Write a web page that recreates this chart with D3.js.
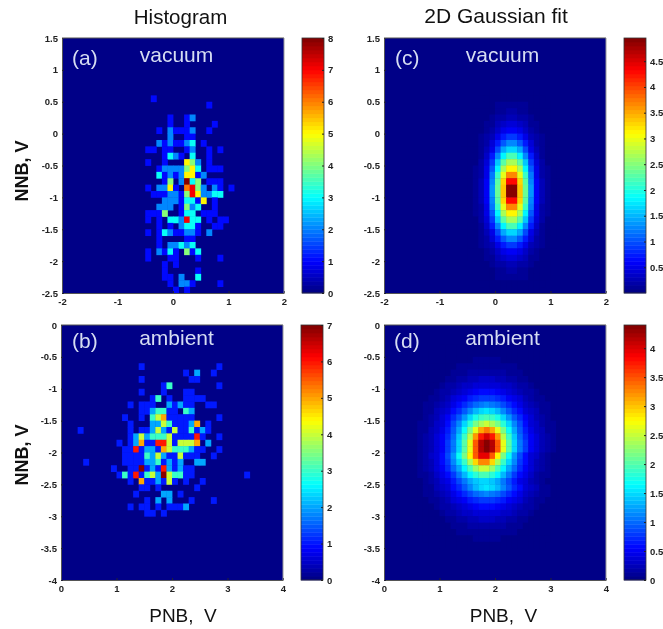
<!DOCTYPE html>
<html>
<head>
<meta charset="utf-8">
<script src="https://cdn.jsdelivr.net/npm/d3@7"></script>
<style>
  html, body { margin: 0; padding: 0; background: #fff; }
  svg { display: block; filter: blur(0.45px); }
  text { font-family: "Liberation Sans", Arial, sans-serif; white-space: pre; }
</style>
</head>
<body>
<div id="chart"></div>
<script>
// histogram counts, one [row, col, count] per filled bin (40 x 40 bins, empty bins left out)
var histA = [
  [9,16,1],[10,26,1],
  [12,19,1],[12,22,1],[12,23,2],
  [13,19,1],[13,22,1],[13,27,1],
  [14,17,1],[14,19,2],[14,20,1],[14,21,1],[14,22,1],[14,23,2],[14,26,1],
  [15,19,2],[15,22,1],[15,23,1],
  [16,17,2],[16,18,1],[16,19,2],[16,20,1],[16,21,1],[16,22,2],[16,23,3],[16,25,1],
  [17,15,1],[17,16,1],[17,18,1],[17,19,1],[17,22,1],[17,23,2],[17,26,1],[17,28,1],
  [18,18,1],[18,19,3],[18,20,2],[18,21,1],[18,23,3],[18,26,1],
  [19,15,1],[19,18,1],[19,22,5],[19,23,4],[19,24,2],[19,26,1],
  [20,17,1],[20,18,2],[20,19,2],[20,20,2],[20,21,2],[20,22,4],[20,23,5],[20,24,3],[20,26,1],[20,27,1],[20,28,1],
  [21,17,3],[21,18,1],[21,19,2],[21,20,1],[21,21,2],[21,22,5],[21,23,5],[21,24,1],[21,25,2],
  [22,18,1],[22,19,4],[22,21,2],[22,22,8],[22,23,3],[22,24,4],[22,26,1],[22,27,1],[22,28,1],
  [23,15,1],[23,17,2],[23,18,2],[23,19,5],[23,20,1],[23,22,6],[23,23,7],[23,24,4],[23,25,2],[23,27,2],[23,28,1],[23,30,1],
  [24,16,1],[24,17,1],[24,18,1],[24,19,2],[24,20,2],[24,21,1],[24,22,4],[24,23,7],[24,24,5],[24,25,2],[24,26,2],[24,27,3],[24,28,3],
  [25,18,2],[25,19,2],[25,20,2],[25,21,1],[25,22,3],[25,23,3],[25,24,1],[25,25,5],[25,27,1],
  [26,17,2],[26,18,2],[26,19,2],[26,21,1],[26,22,4],[26,23,2],[26,24,3],[26,27,1],
  [27,15,1],[27,16,1],[27,17,1],[27,18,4],[27,21,1],[27,22,3],[27,23,3],[27,25,1],[27,26,1],[27,27,1],
  [28,15,1],[28,17,1],[28,19,3],[28,20,3],[28,21,2],[28,22,7],[28,23,3],[28,24,3],[28,26,1],[28,28,1],[28,29,1],
  [29,17,1],[29,19,1],[29,21,2],[29,22,3],[29,23,3],[29,24,1],[29,27,1],[29,28,1],
  [30,15,1],[30,17,1],[30,18,3],[30,19,2],[30,20,1],[30,21,1],[30,22,2],[30,23,2],[30,24,1],[30,26,2],
  [31,17,1],[31,22,1],[31,23,1],
  [32,17,1],[32,19,2],[32,20,2],[32,21,3],[32,22,2],[32,23,3],
  [33,15,1],[33,17,2],[33,18,1],[33,19,3],[33,20,1],[33,22,4],[33,23,1],[33,24,3],
  [34,15,1],[34,19,1],[34,20,1],[34,24,1],[34,28,1],
  [35,18,1],[35,20,1],
  [36,18,1],[36,24,1],
  [37,18,1],[37,19,1],[37,21,2],[37,24,3],
  [38,19,1],[38,21,2],[38,22,2],[38,23,1],[38,28,1],
  [39,20,1],[39,22,1]
];

var histB = [
  [6,14,1],[6,28,1],
  [7,22,1],[7,24,2],[7,27,1],
  [8,14,1],[8,23,1],[8,24,1],
  [9,18,1],[9,19,3],[9,28,1],
  [10,14,1],[10,18,1],[10,22,1],[10,23,1],
  [11,16,1],[11,17,3],[11,19,1],[11,22,1],[11,23,1],[11,24,1],[11,25,1],
  [12,12,1],[12,14,1],[12,15,1],[12,16,1],[12,19,2],[12,20,1],[12,21,2],[12,22,1],[12,23,1],[12,26,1],[12,27,1],
  [13,14,1],[13,15,1],[13,16,2],[13,17,3],[13,18,3],[13,19,1],[13,20,1],[13,22,3],[13,23,2],
  [14,11,1],[14,14,1],[14,16,3],[14,17,4],[14,18,5],[14,19,1],[14,20,1],[14,21,1],[14,22,1],[14,23,1],[14,28,1],
  [15,12,1],[15,16,2],[15,17,2],[15,18,4],[15,19,3],[15,20,1],[15,21,1],[15,22,1],[15,23,2],[15,24,5],[15,26,1],
  [16,3,1],[16,12,1],[16,14,1],[16,15,1],[16,16,2],[16,17,4],[16,18,2],[16,19,1],[16,20,4],[16,21,1],[16,22,1],[16,23,3],[16,24,1],[16,25,2],[16,26,1],
  [17,12,1],[17,13,2],[17,14,4],[17,15,2],[17,16,3],[17,17,3],[17,18,3],[17,19,4],[17,20,1],[17,21,1],[17,22,1],[17,23,1],[17,24,6],[17,25,1],[17,28,1],
  [18,10,1],[18,12,1],[18,13,2],[18,14,5],[18,15,1],[18,16,1],[18,17,6],[18,18,6],[18,19,4],[18,20,1],[18,21,4],[18,22,4],[18,23,4],[18,24,5],[18,26,2],
  [19,11,1],[19,12,1],[19,13,6],[19,14,1],[19,15,2],[19,16,2],[19,17,1],[19,18,5],[19,19,4],[19,20,3],[19,21,3],[19,22,3],[19,23,2],[19,24,1],[19,25,1],[19,28,1],
  [20,11,1],[20,12,1],[20,13,1],[20,14,1],[20,15,3],[20,16,2],[20,17,4],[20,18,2],[20,19,1],[20,20,1],[20,21,4],[20,22,1],[20,23,1],[20,24,1],[20,27,1],
  [21,4,1],[21,11,1],[21,12,1],[21,13,1],[21,14,1],[21,15,2],[21,16,2],[21,17,3],[21,18,1],[21,19,2],[21,20,1],[21,21,2],[21,24,2],[21,25,2],
  [22,9,1],[22,12,1],[22,13,1],[22,14,7],[22,15,1],[22,16,2],[22,17,1],[22,18,6],[22,19,2],[22,20,1],[22,21,2],[22,22,1],[22,23,1],
  [23,10,1],[23,11,3],[23,12,1],[23,13,6],[23,14,1],[23,15,3],[23,16,4],[23,17,2],[23,18,7],[23,19,4],[23,20,3],[23,21,3],[23,22,1],[23,23,1],[23,33,1],
  [24,12,1],[24,14,5],[24,15,1],[24,16,1],[24,17,2],[24,18,1],[24,19,4],[24,20,1],[24,22,1],[24,25,1],
  [25,14,1],[25,15,1],[25,17,1],[25,24,1],
  [26,13,1],[26,18,2],[26,19,2],[26,21,1],
  [27,15,1],[27,17,2],[27,19,2],[27,23,1],[27,27,1],
  [28,12,1],[28,14,1],[28,15,1],[28,17,1],[28,19,1],[28,20,1],[28,21,1],[28,22,2],
  [29,15,1],[29,16,1],[29,18,1]
];

// fitted surface (c), rows 8..39, cols 14..31
var fitCStartRow = 8, fitCStartCol = 14;
var fitC = [
  [0,0,0,0,.01,.02,.03,.04,.04,.04,.04,.03,.02,.01,0,0,0,0],
  [0,0,0,.01,.02,.035,.05,.065,.07,.07,.065,.05,.035,.02,.01,0,0,0],
  [0,0,.01,.015,.03,.05,.08,.1,.11,.11,.1,.08,.05,.03,.015,.01,0,0],
  [0,0,.01,.02,.04,.07,.11,.15,.17,.17,.15,.11,.07,.04,.02,.01,0,0],
  [0,0,.015,.03,.06,.1,.16,.22,.25,.25,.22,.16,.1,.06,.03,.015,0,0],
  [0,.01,.02,.04,.085,.15,.24,.33,.39,.39,.33,.24,.15,.085,.04,.02,.01,0],
  [0,.01,.023,.055,.11,.21,.35,.5,.59,.59,.5,.35,.21,.11,.055,.023,.01,0],
  [0,.015,.03,.08,.16,.3,.5,.74,.91,.91,.74,.5,.3,.16,.08,.03,.015,0],
  [.01,.015,.04,.1,.2,.4,.7,1.05,1.26,1.26,1.05,.7,.4,.2,.1,.04,.015,.01],
  [.01,.02,.05,.12,.26,.54,.98,1.42,1.7,1.7,1.42,.98,.54,.26,.12,.05,.02,.01],
  [.01,.023,.06,.15,.34,.7,1.25,1.83,2.2,2.2,1.83,1.25,.7,.34,.15,.06,.023,.01],
  [.01,.026,.07,.18,.4,.9,1.55,2.25,2.7,2.7,2.25,1.55,.9,.4,.18,.07,.026,.01],
  [.011,.03,.085,.2,.48,1.05,1.85,2.65,3.17,3.17,2.65,1.85,1.05,.48,.2,.085,.03,.011],
  [.012,.033,.09,.23,.54,1.2,2.1,3,3.7,3.7,3,2.1,1.2,.54,.23,.09,.033,.012],
  [.012,.035,.1,.25,.58,1.3,2.27,3.25,4.3,4.3,3.25,2.27,1.3,.58,.25,.1,.035,.012],
  [.013,.035,.1,.25,.61,1.35,2.35,3.4,4.9,4.9,3.4,2.35,1.35,.61,.25,.1,.035,.013],
  [.013,.035,.1,.25,.61,1.35,2.35,3.4,4.9,4.9,3.4,2.35,1.35,.61,.25,.1,.035,.013],
  [.012,.035,.1,.25,.58,1.3,2.27,3.25,4.3,4.3,3.25,2.27,1.3,.58,.25,.1,.035,.012],
  [.012,.033,.09,.23,.54,1.2,2.1,3,3.7,3.7,3,2.1,1.2,.54,.23,.09,.033,.012],
  [.011,.03,.085,.2,.48,1.05,1.85,2.65,3.17,3.17,2.65,1.85,1.05,.48,.2,.085,.03,.011],
  [.01,.026,.07,.18,.4,.9,1.55,2.25,2.7,2.7,2.25,1.55,.9,.4,.18,.07,.026,.01],
  [.01,.023,.06,.15,.34,.7,1.25,1.83,2.2,2.2,1.83,1.25,.7,.34,.15,.06,.023,.01],
  [.01,.02,.05,.12,.26,.54,.98,1.42,1.7,1.7,1.42,.98,.54,.26,.12,.05,.02,.01],
  [.01,.015,.04,.1,.2,.4,.7,1.05,1.26,1.26,1.05,.7,.4,.2,.1,.04,.015,.01],
  [0,.015,.03,.08,.16,.3,.5,.74,.91,.91,.74,.5,.3,.16,.08,.03,.015,0],
  [0,.01,.023,.055,.11,.21,.35,.5,.59,.59,.5,.35,.21,.11,.055,.023,.01,0],
  [0,.01,.02,.04,.085,.15,.24,.33,.39,.39,.33,.24,.15,.085,.04,.02,.01,0],
  [0,0,.015,.03,.06,.1,.16,.22,.25,.25,.22,.16,.1,.06,.03,.015,0,0],
  [0,0,.01,.02,.04,.07,.11,.15,.17,.17,.15,.11,.07,.04,.02,.01,0,0],
  [0,0,.01,.015,.03,.05,.08,.1,.11,.11,.1,.08,.05,.03,.015,.01,0,0],
  [0,0,0,.01,.02,.035,.05,.065,.07,.07,.065,.05,.035,.02,.01,0,0,0],
  [0,0,0,0,.01,.02,.03,.04,.04,.04,.04,.03,.02,.01,0,0,0,0]
];

// fitted surface (d), rows 3..34, cols 5..31
var fitDStartRow = 3, fitDStartCol = 5;
var fitD = [
  [0,0,0,0,0,.01,.01,.015,.015,.02,.02,.025,.03,.03,.03,.025,.02,.02,.015,.015,.01,.01,0,0,0,0,0],
  [0,0,0,.01,.01,.015,.02,.025,.03,.035,.04,.04,.045,.045,.045,.04,.04,.035,.03,.025,.02,.015,.01,.01,0,0,0],
  [0,0,.01,.012,.02,.025,.035,.04,.05,.055,.065,.07,.075,.075,.075,.07,.065,.055,.05,.04,.035,.025,.02,.012,.01,0,0],
  [0,0,.01,.015,.02,.03,.04,.055,.07,.09,.105,.115,.12,.12,.12,.115,.105,.09,.07,.055,.04,.03,.02,.015,.01,0,0],
  [0,.01,.014,.025,.035,.045,.065,.09,.11,.13,.155,.18,.19,.19,.19,.18,.155,.13,.11,.09,.065,.045,.035,.025,.014,.01,0],
  [.01,.012,.02,.035,.045,.065,.1,.13,.17,.2,.24,.27,.285,.29,.285,.27,.24,.2,.17,.13,.1,.065,.045,.035,.02,.012,.01],
  [.01,.02,.03,.045,.065,.1,.14,.18,.25,.29,.34,.38,.4,.41,.4,.38,.34,.29,.25,.18,.14,.1,.065,.045,.03,.02,.01],
  [.015,.025,.04,.06,.095,.14,.19,.26,.33,.4,.47,.52,.56,.57,.56,.52,.47,.4,.33,.26,.19,.14,.095,.06,.04,.025,.015],
  [.02,.035,.055,.085,.13,.19,.26,.35,.44,.54,.65,.74,.8,.82,.8,.74,.65,.54,.44,.35,.26,.19,.13,.085,.055,.035,.02],
  [.025,.04,.07,.11,.17,.25,.34,.45,.57,.73,.88,1,1.09,1.12,1.09,1,.88,.73,.57,.45,.34,.25,.17,.11,.07,.04,.025],
  [.03,.05,.08,.13,.21,.3,.41,.55,.75,.95,1.16,1.35,1.47,1.52,1.47,1.35,1.16,.95,.75,.55,.41,.3,.21,.13,.08,.05,.03],
  [.035,.06,.1,.165,.25,.36,.5,.7,.93,1.2,1.5,1.73,1.9,1.95,1.9,1.73,1.5,1.2,.93,.7,.5,.36,.25,.165,.1,.06,.035],
  [.04,.07,.11,.19,.29,.41,.58,.83,1.13,1.47,1.8,2.15,2.4,2.5,2.4,2.15,1.8,1.47,1.13,.83,.58,.41,.29,.19,.11,.07,.04],
  [.045,.08,.13,.21,.32,.46,.67,.95,1.3,1.7,2.15,2.65,3.15,3.35,3.15,2.65,2.15,1.7,1.3,.95,.67,.46,.32,.21,.13,.08,.045],
  [.05,.085,.14,.23,.35,.5,.73,1.03,1.44,1.9,2.43,3.2,3.75,4,3.75,3.2,2.43,1.9,1.44,1.03,.73,.5,.35,.23,.14,.085,.05],
  [.05,.09,.15,.24,.36,.52,.77,1.08,1.5,2,2.65,3.5,4.15,4.4,4.15,3.5,2.65,2,1.5,1.08,.77,.52,.36,.24,.15,.09,.05],
  [.05,.09,.15,.24,.36,.52,.77,1.08,1.5,2,2.65,3.5,4.15,4.4,4.15,3.5,2.65,2,1.5,1.08,.77,.52,.36,.24,.15,.09,.05],
  [.065,.11,.18,.285,.41,.6,.88,1.22,1.66,2.15,2.8,3.5,3.95,3.95,3.5,2.8,2.15,1.66,1.22,.88,.6,.41,.285,.18,.11,.065,.04],
  [.06,.1,.17,.26,.39,.55,.8,1.1,1.5,1.9,2.38,2.95,3.3,3.3,2.95,2.38,1.9,1.5,1.1,.8,.55,.39,.26,.17,.1,.06,.035],
  [.055,.09,.15,.24,.35,.5,.7,.97,1.3,1.65,1.98,2.3,2.48,2.48,2.3,1.98,1.65,1.3,.97,.7,.5,.35,.24,.15,.09,.055,.03],
  [.045,.08,.125,.2,.31,.43,.58,.82,1.05,1.35,1.62,1.82,1.93,1.93,1.82,1.62,1.35,1.05,.82,.58,.43,.31,.2,.125,.08,.045,.03],
  [.04,.065,.105,.165,.25,.36,.48,.65,.85,1.05,1.25,1.42,1.5,1.5,1.42,1.25,1.05,.85,.65,.48,.36,.25,.165,.105,.065,.04,.025],
  [.03,.05,.08,.13,.21,.3,.41,.55,.75,.95,1.16,1.35,1.47,1.52,1.47,1.35,1.16,.95,.75,.55,.41,.3,.21,.13,.08,.05,.03],
  [.025,.04,.07,.11,.17,.25,.34,.45,.57,.73,.88,1,1.09,1.12,1.09,1,.88,.73,.57,.45,.34,.25,.17,.11,.07,.04,.025],
  [.02,.035,.055,.085,.13,.19,.26,.35,.44,.54,.65,.74,.8,.82,.8,.74,.65,.54,.44,.35,.26,.19,.13,.085,.055,.035,.02],
  [.015,.025,.04,.06,.095,.14,.19,.26,.33,.4,.47,.52,.56,.57,.56,.52,.47,.4,.33,.26,.19,.14,.095,.06,.04,.025,.015],
  [.01,.02,.03,.045,.065,.1,.14,.18,.25,.29,.34,.38,.4,.41,.4,.38,.34,.29,.25,.18,.14,.1,.065,.045,.03,.02,.01],
  [.01,.012,.02,.035,.045,.065,.1,.13,.17,.2,.24,.27,.285,.29,.285,.27,.24,.2,.17,.13,.1,.065,.045,.035,.02,.012,.01],
  [0,.01,.014,.025,.035,.045,.065,.09,.11,.13,.155,.18,.19,.19,.19,.18,.155,.13,.11,.09,.065,.045,.035,.025,.014,.01,0],
  [0,0,.01,.015,.02,.03,.04,.055,.07,.09,.105,.115,.12,.12,.12,.115,.105,.09,.07,.055,.04,.03,.02,.015,.01,0,0],
  [0,0,.01,.012,.02,.025,.035,.04,.05,.055,.065,.07,.075,.075,.075,.07,.065,.055,.05,.04,.035,.025,.02,.012,.01,0,0],
  [0,0,0,.01,.01,.015,.02,.025,.03,.035,.04,.04,.045,.045,.045,.04,.04,.035,.03,.025,.02,.015,.01,.01,0,0,0]
];

// tick labels
var xTicksTop = [-2, -1, 0, 1, 2];
var yTicksTop = [1.5, 1, 0.5, 0, -0.5, -1, -1.5, -2, -2.5];
var xTicksBottom = [0, 1, 2, 3, 4];
var yTicksBottom = [0, -0.5, -1, -1.5, -2, -2.5, -3, -3.5, -4];
var barTicksA = [0, 1, 2, 3, 4, 5, 6, 7, 8];
var barTicksB = [0, 1, 2, 3, 4, 5, 6, 7];
var barTicksC = [0.5, 1, 1.5, 2, 2.5, 3, 3.5, 4, 4.5];
var barTicksD = [0, 0.5, 1, 1.5, 2, 2.5, 3, 3.5, 4];

var svg = d3.select("#chart").append("svg")
    .attr("width", 663)
    .attr("height", 629);

var bins = d3.range(40);
var levels = d3.range(64);

// matlab jet, 64 steps
function jet(t) {
    var k = (Math.floor(Math.min(t, 0.9999) * 64) + 0.5) / 64;
    var ch = function (c) { return Math.round(255 * Math.max(0, Math.min(1, 1.5 - Math.abs(4 * k - c)))); };
    return d3.rgb(ch(3), ch(2), ch(1)).formatHex();
}

function makePanel(p) {
    var w = 222, h = 255;
    var g = svg.append("g").attr("transform", "translate(" + p.left + "," + p.top + ")");

    var xBand = d3.scaleBand().domain(bins).range([0, w]);
    var yBand = d3.scaleBand().domain(bins).range([0, h]);
    var color = function (v) { return jet(v / p.max); };

    g.append("rect").attr("width", w).attr("height", h).attr("fill", color(0));

    g.selectAll(".cell")
        .data(p.cells)
        .enter()
        .append("rect")
        .attr("class", "cell")
        .attr("x", function (d) { return xBand(d[1]); })
        .attr("y", function (d) { return yBand(d[0]); })
        .attr("width", xBand.bandwidth() + 0.4)
        .attr("height", yBand.bandwidth() + 0.4)
        .attr("fill", function (d) { return color(d[2]); });

    // axes
    var x = d3.scaleLinear().domain(p.xDomain).range([0, w]);
    var y = d3.scaleLinear().domain(p.yDomain).range([h, 0]);

    var xAxis = g.append("g").attr("transform", "translate(0," + h + ")")
        .call(d3.axisBottom(x).tickValues(p.xTicks).tickFormat(String).tickSizeInner(-2).tickSizeOuter(0).tickPadding(5));
    var yAxis = g.append("g")
        .call(d3.axisLeft(y).tickValues(p.yTicks).tickFormat(String).tickSizeInner(-2).tickSizeOuter(0).tickPadding(4));

    [xAxis, yAxis].forEach(function (a) {
        a.selectAll("path").attr("stroke", "#555");
        a.selectAll("line").attr("stroke", "#223");
        a.selectAll("text").attr("fill", "#222").style("font-size", "9.5px").style("font-weight", "bold")
            .style("font-family", '"Liberation Sans", Arial, sans-serif');
    });

    g.append("line").attr("x1", 0).attr("x2", w).attr("y1", 0).attr("y2", 0).attr("stroke", "#555");
    g.append("line").attr("x1", w).attr("x2", w).attr("y1", 0).attr("y2", h).attr("stroke", "#999");

    // labels inside the plot
    g.append("text").attr("x", p.tagX).attr("y", p.tagY).attr("fill", "#d5dcf2")
        .style("font-size", "21px").text(p.tag);
    g.append("text").attr("x", p.nameX).attr("y", p.nameY).attr("text-anchor", "middle").attr("fill", "#d5dcf2")
        .style("font-size", "21px").text(p.name);

    // colour bar
    var barH = h;
    var bar = svg.append("g").attr("transform", "translate(" + p.barLeft + "," + p.top + ")");
    var yBar = d3.scaleLinear().domain([0, p.max]).range([barH, 0]);

    bar.selectAll("rect")
        .data(levels)
        .enter()
        .append("rect")
        .attr("x", 0)
        .attr("width", 22)
        .attr("y", function (d) { return yBar((d + 1) / 64 * p.max); })
        .attr("height", barH / 64 + 0.4)
        .attr("fill", function (d) { return jet((d + 0.5) / 64); });

    bar.append("rect").attr("width", 22).attr("height", barH)
        .attr("fill", "none").attr("stroke", "#333").attr("stroke-width", 0.8);

    var barAxis = bar.append("g").attr("transform", "translate(22,0)")
        .call(d3.axisRight(yBar).tickValues(p.barTicks).tickFormat(String).tickSizeInner(-2).tickSizeOuter(0).tickPadding(4));
    barAxis.selectAll("path").remove();
    barAxis.selectAll("line").attr("stroke", "#222");
    barAxis.selectAll("text").attr("fill", "#222").style("font-size", "9.5px").style("font-weight", "bold")
        .style("font-family", '"Liberation Sans", Arial, sans-serif');
}

// turn a typed block of rows into [row, col, value] cells
function toCells(rows, startRow, startCol) {
    var cells = [];
    rows.forEach(function (r, i) {
        r.forEach(function (v, j) {
            if (v > 0) cells.push([startRow + i, startCol + j, v]);
        });
    });
    return cells;
}

makePanel({
    left: 62, top: 38, cells: histA, max: 8, xDomain: [-2, 2], yDomain: [-2.5, 1.5],
    xTicks: xTicksTop, yTicks: yTicksTop, tag: "(a)", tagX: 10, tagY: 27, name: "vacuum", nameX: 114.5, nameY: 24,
    barLeft: 302, barTicks: barTicksA
});
makePanel({
    left: 61, top: 325, cells: histB, max: 7, xDomain: [0, 4], yDomain: [-4, 0],
    xTicks: xTicksBottom, yTicks: yTicksBottom, tag: "(b)", tagX: 11, tagY: 23, name: "ambient", nameX: 115.5, nameY: 20,
    barLeft: 301, barTicks: barTicksB
});
makePanel({
    left: 384, top: 38, cells: toCells(fitC, fitCStartRow, fitCStartCol), max: 4.95, xDomain: [-2, 2], yDomain: [-2.5, 1.5],
    xTicks: xTicksTop, yTicks: yTicksTop, tag: "(c)", tagX: 11, tagY: 27, name: "vacuum", nameX: 118.5, nameY: 24,
    barLeft: 624, barTicks: barTicksC
});
makePanel({
    left: 384, top: 325, cells: toCells(fitD, fitDStartRow, fitDStartCol), max: 4.4, xDomain: [0, 4], yDomain: [-4, 0],
    xTicks: xTicksBottom, yTicks: yTicksBottom, tag: "(d)", tagX: 10, tagY: 23, name: "ambient", nameX: 118.5, nameY: 20,
    barLeft: 624, barTicks: barTicksD
});

// titles and axis names
function title(txt, xPos, yPos, size, rotate) {
    svg.append("text")
        .attr("transform", "translate(" + xPos + "," + yPos + ")" + (rotate ? " rotate(-90)" : ""))
        .attr("text-anchor", "middle")
        .attr("fill", "#111")
        .style("font-size", size + "px")
        .style("font-weight", rotate ? "bold" : "normal")
        .text(txt);
}

title("Histogram", 180.5, 24, 20.5);
title("2D Gaussian fit", 496, 23, 21);
title("NNB, V", 28, 171, 18, true);
title("NNB, V", 28, 455, 18, true);
title("PNB,  V", 183, 622, 19);
title("PNB,  V", 503.5, 622, 19);
</script>
</body>
</html>
